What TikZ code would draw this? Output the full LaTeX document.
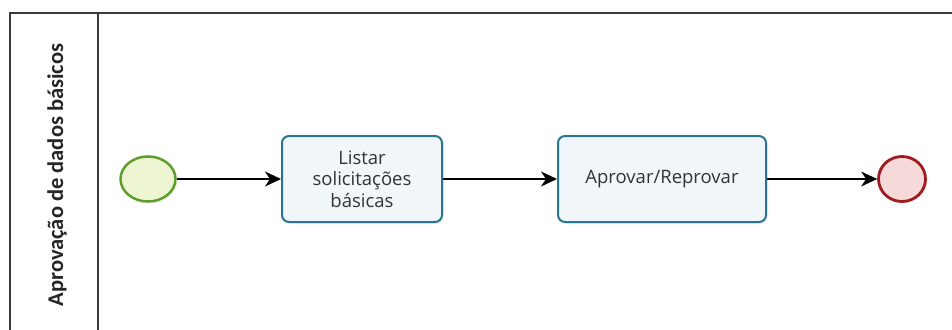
\documentclass[tikz,border=0pt]{standalone}
\usepackage{fontspec}
\setmainfont{Open Sans}
\newfontfamily\lanefont{Carlito}
\usetikzlibrary{arrows.meta,shadows,shapes.geometric}
\definecolor{startline}{HTML}{5E9E2A}
\definecolor{startfill}{HTML}{EEF5D2}
\definecolor{endline}{HTML}{A01A1E}
\definecolor{endfill}{HTML}{F6DADA}
\definecolor{taskline}{HTML}{2A7590}
\definecolor{taskfill}{HTML}{F0F6FA}
\definecolor{poolline}{HTML}{3A3A3A}
\tikzset{
  pool/.style={draw=poolline, line width=1.2pt},
  startev/.style={ellipse, draw=startline, line width=2.5pt, fill=startfill, minimum width=55pt, minimum height=45pt, inner sep=0pt, drop shadow={shadow xshift=2pt, shadow yshift=-2pt, opacity=0.12}},
  endev/.style={ellipse, draw=endline, line width=2.8pt, fill=endfill, minimum width=47pt, minimum height=45pt, inner sep=0pt, drop shadow={shadow xshift=2pt, shadow yshift=-2pt, opacity=0.12}},
  task/.style={rectangle, rounded corners=7pt, draw=taskline, line width=2pt, fill=taskfill, minimum width=160pt, minimum height=86pt, align=center, font=\fontsize{18.5}{21.5}\selectfont, text=black!80, drop shadow={shadow xshift=2pt, shadow yshift=-2pt, opacity=0.12}},
  flow/.style={-{Stealth[length=16pt,width=15pt,inset=5pt]}, line width=1.1pt, black},
  lanelabel/.style={rotate=90, font=\lanefont\bfseries\fontsize{22.5}{25}\selectfont, text=black!85}
}
\begin{document}
\begin{tikzpicture}[x=1pt,y=-1pt]
\useasboundingbox (0,0) rectangle (952,329);
\draw[pool] (10,340) -- (10,13) -- (960,13);
\draw[pool] (98,13) -- (98,340);
\node[lanelabel] (lbl) at (57,175) {Aprovação de dados básicos};
\node[startev] (start) at (148,179) {};
\node[task] (t1) at (362,179) {Listar\\solicitações\\básicas};
\node[task, minimum width=208pt] (t2) at (662,179) {Aprovar/Reprovar};
\node[endev] (end) at (902,179) {};
\draw[flow] (start) -- (t1);
\draw[flow] (t1) -- (t2);
\draw[flow] (t2) -- (end);
\end{tikzpicture}
\end{document}
